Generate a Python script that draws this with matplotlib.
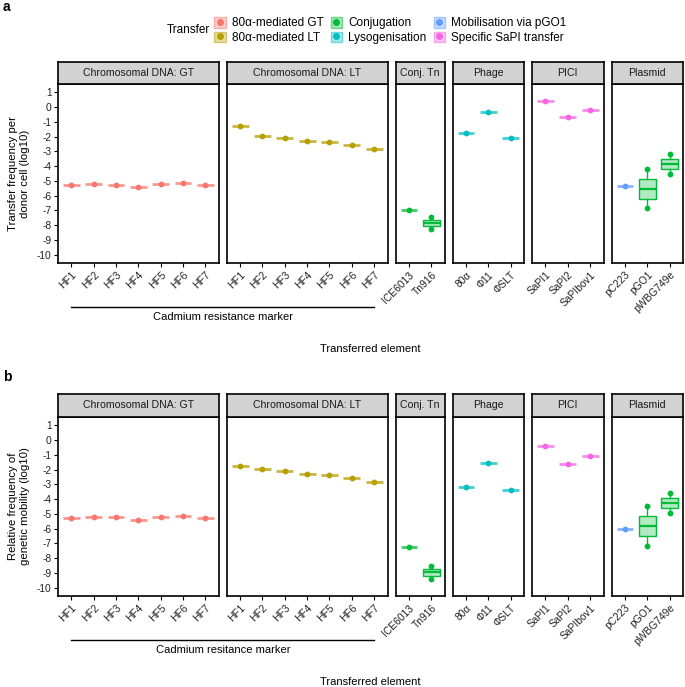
import numpy as np
import matplotlib
matplotlib.use("Agg")
from matplotlib import pyplot as plt
from matplotlib.lines import Line2D
from matplotlib.patches import Patch

plt.rcParams['font.family'] = ['Liberation Sans', 'DejaVu Sans']

# colours per transfer type (ggplot hue palette)
transfer_types = ['80α-mediated GT', '80α-mediated LT', 'Conjugation',
                  'Lysogenisation', 'Mobilisation via pGO1', 'Specific SaPI transfer']
transfer_colors = ['#F8766D', '#B79F00', '#00BA38', '#00BFC4', '#619CFF', '#F564E3']

facets = ['Chromosomal DNA: GT', 'Chromosomal DNA: LT', 'Conj. Tn', 'Phage', 'PICI', 'Plasmid']
hf_labels = ['HF1', 'HF2', 'HF3', 'HF4', 'HF5', 'HF6', 'HF7']
facet_labels = [hf_labels, hf_labels, ['ICE6013', 'Tn916'], ['80α', 'Φ11', 'ΦSLT'],
                ['SaPI1', 'SaPI2', 'SaPIbov1'], ['pC223', 'pGO1', 'pWBG749e']]
# transfer type index of each element
facet_types = [[0] * 7, [1] * 7, [2, 2], [3, 3, 3], [5, 5, 5], [4, 2, 2]]

# panel a: transfer frequency per donor cell (log10); triplets are replicates
a_gt = [-5.28, -5.21, -5.26, -5.44, -5.21, -5.12, -5.30]
a_lt = [-1.29, -1.96, -2.10, -2.28, -2.35, -2.57, -2.84]
a_conj = [[-6.95], [-8.22, -7.86, -7.47]]
a_phage = [-1.76, -0.34, -2.12]
a_pici = [0.38, -0.65, -0.20]
a_plasmid = [[-5.35], [-6.86, -5.53, -4.22], [-4.56, -3.88, -3.21]]

# panel b: relative frequency of genetic mobility (log10)
b_gt = [-5.25, -5.18, -5.23, -5.43, -5.18, -5.11, -5.27]
b_lt = [-1.73, -1.96, -2.09, -2.30, -2.34, -2.57, -2.84]
b_conj = [[-7.27], [-9.41, -8.92, -8.54]]
b_phage = [-3.15, -1.58, -3.40]
b_pici = [-0.43, -1.64, -1.06]
b_plasmid = [[-6.04], [-7.14, -5.83, -4.50], [-4.91, -4.23, -3.56]]

y_ticks = list(range(1, -11, -1))


def as_groups(vals):
    return [v if isinstance(v, list) else [v] for v in vals]


panel_a = [as_groups(v) for v in [a_gt, a_lt, a_conj, a_phage, a_pici, a_plasmid]]
panel_b = [as_groups(v) for v in [b_gt, b_lt, b_conj, b_phage, b_pici, b_plasmid]]

W, H = 685, 687
fig = plt.figure(figsize=(W / 100, H / 100), dpi=100)


def fx(px):
    return px / W


def fy(py):
    return 1 - py / H


left, right, gap = 58, 683, 8
units = [len(l) + 0.2 for l in facet_labels]
ppu = (right - left - gap * (len(units) - 1)) / sum(units)


def draw_panel(groups_all, top_strip, top_ax, bottom_ax, ylabel, marker_text, letter, letter_y):
    x0 = left
    axes = []
    for i, (name, labels, types, groups) in enumerate(zip(facets, facet_labels, facet_types, groups_all)):
        w = units[i] * ppu
        ax = fig.add_axes([fx(x0), fy(bottom_ax), fx(w), (bottom_ax - top_ax) / H])
        sax = fig.add_axes([fx(x0), fy(top_ax), fx(w), (top_ax - top_strip) / H])
        sax.set_facecolor('#D3D3D3')
        sax.set_xticks([])
        sax.set_yticks([])
        for sp in sax.spines.values():
            sp.set_linewidth(1.2)
        sax.text(0.5, 0.5, name, ha='center', va='center', fontsize=7.6, color='#1a1a1a')

        pos = np.arange(1, len(labels) + 1)
        for p, t, g in zip(pos, types, groups):
            c = transfer_colors[t]
            if len(g) == 1:
                ax.plot([p - 0.375, p + 0.375], [g[0], g[0]], color=c, lw=2, alpha=0.75,
                        solid_capstyle='butt', zorder=2)
                ax.plot([p], [g[0]], 'o', color=c, ms=4.2, mew=0, zorder=3)
            else:
                bp = ax.boxplot([g], positions=[p], widths=0.75, whis=(0, 100), patch_artist=True,
                                showfliers=False, showcaps=False, manage_ticks=False)
                for b in bp['boxes']:
                    b.set_facecolor(matplotlib.colors.to_rgba(c, 0.3))
                    b.set_edgecolor(c)
                    b.set_linewidth(1.0)
                for wsk in bp['whiskers']:
                    wsk.set_color(c)
                    wsk.set_linewidth(1.0)
                for m in bp['medians']:
                    m.set_color(c)
                    m.set_linewidth(1.6)
                ax.plot([p, p], [min(g), max(g)], 'o', color=c, ms=4.2, mew=0, ls='none', zorder=3)

        ax.set_xlim(0.4, len(labels) + 0.6)
        ax.set_ylim(-10.55, 1.55)
        ax.set_xticks(pos)
        ax.set_xticklabels(labels, rotation=45, ha='right', rotation_mode='anchor', fontsize=7.4,
                           color='#222222')
        ax.tick_params(axis='x', length=3, width=0.8, pad=2)
        if i == 0:
            ax.set_yticks(y_ticks)
            ax.set_yticklabels([str(t) for t in y_ticks], fontsize=7.4, color='#222222')
            ax.tick_params(axis='y', length=3, width=0.8, pad=1.5)
        else:
            ax.set_yticks([])
        for sp in ax.spines.values():
            sp.set_linewidth(1.2)
        axes.append(ax)
        x0 += w + gap

    # bracket under the HF elements
    x_start = left + 0.6 * ppu
    x_end = left + units[0] * ppu + gap + 6.6 * ppu
    y_line = bottom_ax + 44
    fig.add_artist(Line2D([fx(x_start), fx(x_end)], [fy(y_line), fy(y_line)], color='black', lw=1))
    fig.text(fx((x_start + x_end) / 2), fy(y_line + 5), marker_text, ha='center', va='top', fontsize=8)
    fig.text(fx((left + right) / 2), fy(bottom_ax + 86), 'Transferred element', ha='center', va='center',
             fontsize=8)
    fig.text(fx(19), fy((top_ax + bottom_ax) / 2), ylabel, ha='center', va='center', rotation=90,
             fontsize=8.2, linespacing=1.2)
    fig.text(fx(3), fy(letter_y), letter, ha='left', va='center', fontsize=10, fontweight='bold')
    return axes


draw_panel(panel_a, 62, 84, 263, 'Transfer frequency per\ndonor cell (log10)',
           'Cadmium resistance marker', 'a', 7)
draw_panel(panel_b, 394, 417, 596, 'Relative frequency of\ngenetic mobility (log10)',
           'Cadmium resitance marker', 'b', 377)

# legend at top
handles = []
for c in transfer_colors:
    handles.append((Patch(facecolor=matplotlib.colors.to_rgba(c, 0.35), edgecolor=matplotlib.colors.to_rgba(c, 0.5)),
                    Line2D([], [], color=c, marker='o', ms=4, ls='none')))
fig.legend(handles, transfer_types, ncol=3, loc='upper left', bbox_to_anchor=(fx(214), fy(17)),
           frameon=False, fontsize=8.5, handlelength=1.0, handleheight=1.0, handletextpad=0.5,
           columnspacing=0.6, labelspacing=0.2, borderpad=0, borderaxespad=0)
fig.text(fx(210), fy(30), 'Transfer', ha='right', va='center', fontsize=8.5)

fig.savefig('out.png', dpi=100)
